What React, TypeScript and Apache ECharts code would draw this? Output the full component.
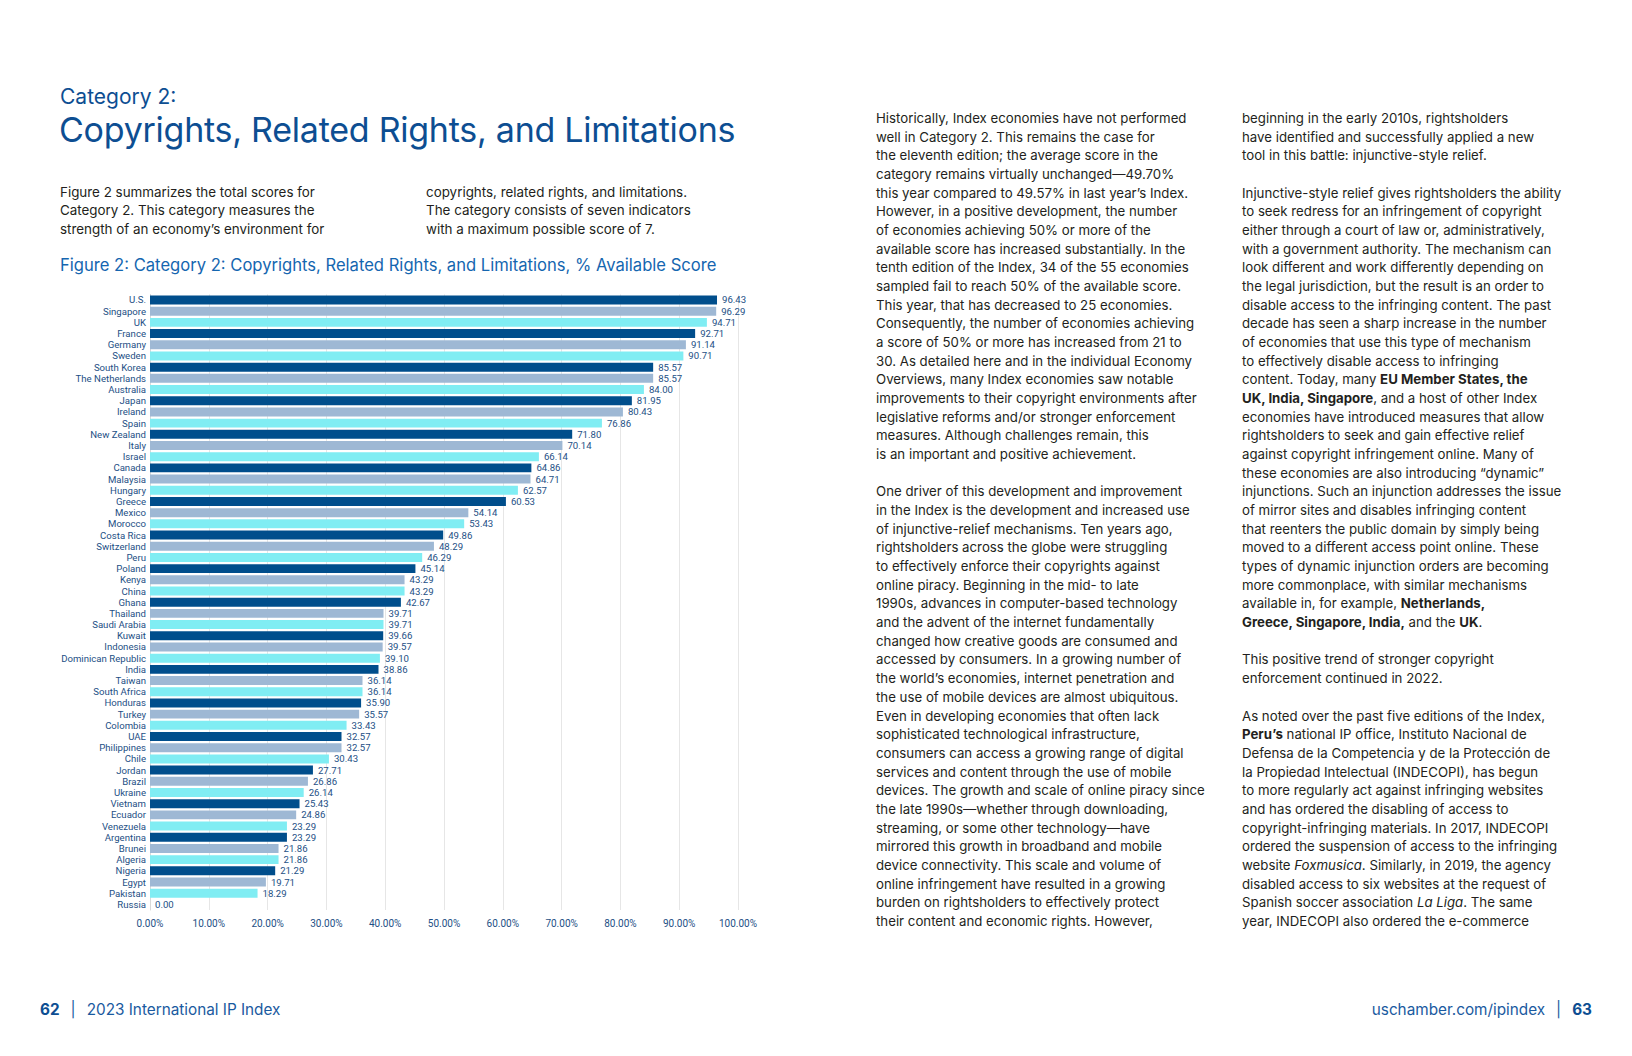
import React, { useEffect, useRef } from "react";
import * as echarts from "echarts";

const countries = [
  "U.S.", "Singapore", "UK", "France", "Germany", "Sweden", "South Korea", "The Netherlands",
  "Australia", "Japan", "Ireland", "Spain", "New Zealand", "Italy", "Israel", "Canada",
  "Malaysia", "Hungary", "Greece", "Mexico", "Morocco", "Costa Rica", "Switzerland", "Peru",
  "Poland", "Kenya", "China", "Ghana", "Thailand", "Saudi Arabia", "Kuwait", "Indonesia",
  "Dominican Republic", "India", "Taiwan", "South Africa", "Honduras", "Turkey", "Colombia", "UAE",
  "Philippines", "Chile", "Jordan", "Brazil", "Ukraine", "Vietnam", "Ecuador", "Venezuela",
  "Argentina", "Brunei", "Algeria", "Nigeria", "Egypt", "Pakistan", "Russia",
];

const scores = [
  96.43, 96.29, 94.71, 92.71, 91.14, 90.71, 85.57, 85.57,
  84.0, 81.95, 80.43, 76.86, 71.8, 70.14, 66.14, 64.86,
  64.71, 62.57, 60.53, 54.14, 53.43, 49.86, 48.29, 46.29,
  45.14, 43.29, 43.29, 42.67, 39.71, 39.71, 39.66, 39.57,
  39.1, 38.86, 36.14, 36.14, 35.9, 35.57, 33.43, 32.57,
  32.57, 30.43, 27.71, 26.86, 26.14, 25.43, 24.86, 23.29,
  23.29, 21.86, 21.86, 21.29, 19.71, 18.29, 0.0,
];

const barColors = ["#004e8c", "#9eb8d4", "#80edf3"];

const axisMin = 0;
const axisMax = 100;
const axisStep = 10;

const figureTitle =
  "Figure 2: Category 2: Copyrights, Related Rights, and Limitations, % Available Score";

const introLeft = [
  "Figure 2 summarizes the total scores for",
  "Category 2. This category measures the",
  "strength of an economy’s environment for",
];
const introRight = [
  "copyrights, related rights, and limitations.",
  "The category consists of seven indicators",
  "with a maximum possible score of 7.",
];

const column1 = [
  "Historically, Index economies have not performed",
  "well in Category 2. This remains the case for",
  "the eleventh edition; the average score in the",
  "category remains virtually unchanged—49.70%",
  "this year compared to 49.57% in last year’s Index.",
  "However, in a positive development, the number",
  "of economies achieving 50% or more of the",
  "available score has increased substantially. In the",
  "tenth edition of the Index, 34 of the 55 economies",
  "sampled fail to reach 50% of the available score.",
  "This year, that has decreased to 25 economies.",
  "Consequently, the number of economies achieving",
  "a score of 50% or more has increased from 21 to",
  "30. As detailed here and in the individual Economy",
  "Overviews, many Index economies saw notable",
  "improvements to their copyright environments after",
  "legislative reforms and/or stronger enforcement",
  "measures. Although challenges remain, this",
  "is an important and positive achievement.",
  "",
  "One driver of this development and improvement",
  "in the Index is the development and increased use",
  "of injunctive-relief mechanisms. Ten years ago,",
  "rightsholders across the globe were struggling",
  "to effectively enforce their copyrights against",
  "online piracy. Beginning in the mid- to late",
  "1990s, advances in computer-based technology",
  "and the advent of the internet fundamentally",
  "changed how creative goods are consumed and",
  "accessed by consumers. In a growing number of",
  "the world’s economies, internet penetration and",
  "the use of mobile devices are almost ubiquitous.",
  "Even in developing economies that often lack",
  "sophisticated technological infrastructure,",
  "consumers can access a growing range of digital",
  "services and content through the use of mobile",
  "devices. The growth and scale of online piracy since",
  "the late 1990s—whether through downloading,",
  "streaming, or some other technology—have",
  "mirrored this growth in broadband and mobile",
  "device connectivity. This scale and volume of",
  "online infringement have resulted in a growing",
  "burden on rightsholders to effectively protect",
  "their content and economic rights. However,",
];

const column2 = [
  "beginning in the early 2010s, rightsholders",
  "have identified and successfully applied a new",
  "tool in this battle: injunctive-style relief.",
  "",
  "Injunctive-style relief gives rightsholders the ability",
  "to seek redress for an infringement of copyright",
  "either through a court of law or, administratively,",
  "with a government authority. The mechanism can",
  "look different and work differently depending on",
  "the legal jurisdiction, but the result is an order to",
  "disable access to the infringing content. The past",
  "decade has seen a sharp increase in the number",
  "of economies that use this type of mechanism",
  "to effectively disable access to infringing",
  "content. Today, many **EU Member States, the**",
  "**UK, India, Singapore**, and a host of other Index",
  "economies have introduced measures that allow",
  "rightsholders to seek and gain effective relief",
  "against copyright infringement online. Many of",
  "these economies are also introducing “dynamic”",
  "injunctions. Such an injunction addresses the issue",
  "of mirror sites and disables infringing content",
  "that reenters the public domain by simply being",
  "moved to a different access point online. These",
  "types of dynamic injunction orders are becoming",
  "more commonplace, with similar mechanisms",
  "available in, for example, **Netherlands,**",
  "**Greece, Singapore, India,** and the **UK**.",
  "",
  "This positive trend of stronger copyright",
  "enforcement continued in 2022.",
  "",
  "As noted over the past five editions of the Index,",
  "**Peru’s** national IP office, Instituto Nacional de",
  "Defensa de la Competencia y de la Protección de",
  "la Propiedad Intelectual (INDECOPI), has begun",
  "to more regularly act against infringing websites",
  "and has ordered the disabling of access to",
  "copyright-infringing materials. In 2017, INDECOPI",
  "ordered the suspension of access to the infringing",
  "website _Foxmusica_. Similarly, in 2019, the agency",
  "disabled access to six websites at the request of",
  "Spanish soccer association _La Liga_. The same",
  "year, INDECOPI also ordered the e-commerce",
];

const BLUE = "#0d4e92";
const FIG_BLUE = "#1566b0";
const CHART_TEXT = "#1d4f85";
const BODY = "#231f20";
const FONT = "Inter, 'Noto Sans', sans-serif";

function renderLine(line: string) {
  const parts = line.split(/(\*\*[^*]+\*\*|_[^_]+_)/);
  return parts.map((p, i) => {
    if (p.startsWith("**") && p.endsWith("**")) {
      return <b key={i} style={{ fontWeight: 700 }}>{p.slice(2, -2)}</b>;
    }
    if (p.startsWith("_") && p.endsWith("_") && p.length > 1) {
      return <i key={i}>{p.slice(1, -1)}</i>;
    }
    return <span key={i}>{p}</span>;
  });
}

function TextBlock(props: { lines: string[]; left: number; top: number; lh: number; size: number; color: string }) {
  const { lines, left, top, lh, size, color } = props;
  return (
    <div style={{ position: "absolute", left, top, fontSize: size, color, fontFamily: FONT }}>
      {lines.map((l, i) => (
        <div key={i} style={{ height: lh, lineHeight: lh + "px", whiteSpace: "nowrap" }}>
          {l ? renderLine(l) : "\u00a0"}
        </div>
      ))}
    </div>
  );
}

export default function App() {
  const ref = useRef<HTMLDivElement>(null);

  useEffect(() => {
    const chart = echarts.init(ref.current!, null, { renderer: "svg" });
    chart.setOption({
      animation: false,
      grid: { left: 150, top: 294.4, width: 588, height: 615.6, containLabel: false },
      xAxis: {
        type: "value",
        min: axisMin,
        max: axisMax,
        interval: axisStep,
        axisLine: { show: false },
        axisTick: { show: false },
        splitLine: { show: true, lineStyle: { color: "#e6e6e6", width: 1 } },
        axisLabel: {
          color: CHART_TEXT,
          fontFamily: "Roboto",
          fontSize: 10,
          margin: 8,
          formatter: (v: number) => v.toFixed(2) + "%",
        },
      },
      yAxis: {
        type: "category",
        inverse: true,
        data: countries,
        axisLine: { show: true, lineStyle: { color: "#d9d9d9", width: 1 } },
        axisTick: { show: false },
        axisLabel: {
          interval: 0,
          color: CHART_TEXT,
          fontFamily: "Roboto",
          fontSize: 9.6,
          margin: 4,
        },
      },
      series: [
        {
          type: "bar",
          barWidth: "80%",
          data: scores.map((v, i) => ({
            value: v,
            itemStyle: { color: barColors[i % 3] },
          })),
          label: {
            show: true,
            position: "right",
            distance: 5,
            color: CHART_TEXT,
            fontFamily: "Roboto",
            fontSize: 9.6,
            formatter: (p: any) => Number(p.value).toFixed(2),
          },
        },
      ],
    });
    return () => chart.dispose();
  }, []);

  return (
    <div
      style={{
        position: "absolute",
        left: 0,
        top: 0,
        width: 1632,
        height: 1056,
        background: "#ffffff",
        overflow: "hidden",
        fontFamily: FONT,
      }}
    >
      <div ref={ref} style={{ position: "absolute", left: 0, top: 0, width: 1632, height: 1056 }} />

      <div style={{ position: "absolute", left: 60, top: 85.5, fontSize: 21, lineHeight: "21px", color: BLUE, whiteSpace: "nowrap" }}>
        Category 2:
      </div>
      <div
        style={{
          position: "absolute",
          left: 59,
          top: 112.5,
          fontSize: 34,
          lineHeight: "34px",
          color: BLUE,
          whiteSpace: "nowrap",
          letterSpacing: -0.25,
        }}
      >
        Copyrights, Related Rights, and Limitations
      </div>

      <TextBlock lines={introLeft} left={60} top={182.5} lh={18.7} size={13.4} color={BODY} />
      <TextBlock lines={introRight} left={426} top={182.5} lh={18.7} size={13.4} color={BODY} />

      <div style={{ position: "absolute", left: 60, top: 256.5, fontSize: 16.6, lineHeight: "16.6px", color: FIG_BLUE, whiteSpace: "nowrap" }}>
        {figureTitle}
      </div>

      <TextBlock lines={column1} left={876} top={109} lh={18.68} size={13.25} color={BODY} />
      <TextBlock lines={column2} left={1242} top={109} lh={18.68} size={13.25} color={BODY} />

      <div style={{ position: "absolute", left: 40, top: 1002, fontSize: 15.3, lineHeight: "15.3px", color: "#1a5aa0", whiteSpace: "nowrap" }}>
        <b style={{ color: BLUE }}>62</b>
        <span style={{ margin: "0 11px" }}>|</span>
        <span>2023 International IP Index</span>
      </div>
      <div style={{ position: "absolute", right: 40, top: 1002, fontSize: 15.3, lineHeight: "15.3px", color: "#1a5aa0", whiteSpace: "nowrap" }}>
        <span>uschamber.com/ipindex</span>
        <span style={{ margin: "0 11px" }}>|</span>
        <b style={{ color: BLUE }}>63</b>
      </div>
    </div>
  );
}
